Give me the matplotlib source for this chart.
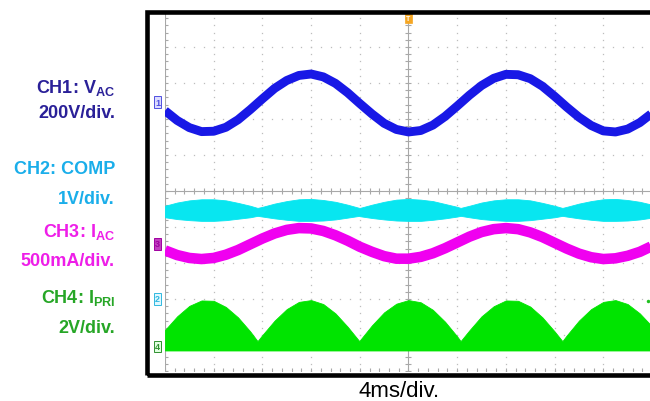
import numpy as np
import matplotlib
matplotlib.use("Agg")
import matplotlib.pyplot as plt
from matplotlib.patches import Rectangle

# ---- data (screen divisions) ----
time_div = [0.00, 0.25, 0.50, 0.75, 1.00, 1.25, 1.50, 1.75, 2.00, 2.25, 2.50, 2.75, 3.00, 3.25,
            3.50, 3.75, 4.00, 4.25, 4.50, 4.75, 5.00, 5.25, 5.50, 5.75, 6.00, 6.25, 6.50, 6.75,
            7.00, 7.25, 7.50, 7.75, 8.00, 8.25, 8.50, 8.75, 9.00, 9.25, 9.50, 9.75, 10.00]
ch1_vac = [2.23, 1.96, 1.76, 1.65, 1.66, 1.77, 1.98, 2.26, 2.56, 2.85, 3.07, 3.21, 3.25, 3.17,
           2.99, 2.73, 2.43, 2.14, 1.88, 1.71, 1.64, 1.68, 1.83, 2.07, 2.36, 2.66, 2.93, 3.13,
           3.24, 3.23, 3.12, 2.91, 2.63, 2.33, 2.05, 1.82, 1.67, 1.64, 1.72, 1.90, 2.16]
ch3_iac = [-1.65, -1.78, -1.86, -1.89, -1.86, -1.77, -1.64, -1.48, -1.32, -1.18, -1.08, -1.03,
           -1.04, -1.11, -1.23, -1.38, -1.55, -1.69, -1.81, -1.88, -1.88, -1.83, -1.73, -1.59,
           -1.43, -1.27, -1.14, -1.06, -1.03, -1.06, -1.15, -1.28, -1.44, -1.60, -1.74, -1.84,
           -1.89, -1.87, -1.80, -1.69, -1.53]

time_env = [0.00, 0.25, 0.50, 0.75, 1.00, 1.25, 1.50, 1.75, 1.90, 2.00, 2.25, 2.50, 2.75, 3.00,
            3.25, 3.50, 3.75, 3.99, 4.00, 4.25, 4.50, 4.75, 5.00, 5.25, 5.50, 5.75, 6.00, 6.07,
            6.25, 6.50, 6.75, 7.00, 7.25, 7.50, 7.75, 8.00, 8.16, 8.25, 8.50, 8.75, 9.00, 9.25,
            9.50, 9.75, 10.00]
ch2_top = [-0.41, -0.32, -0.26, -0.23, -0.23, -0.26, -0.33, -0.41, -0.47, -0.44, -0.35, -0.28,
           -0.23, -0.22, -0.25, -0.30, -0.38, -0.47, -0.47, -0.38, -0.30, -0.24, -0.22, -0.24,
           -0.28, -0.36, -0.44, -0.47, -0.41, -0.32, -0.26, -0.23, -0.23, -0.26, -0.33, -0.41,
           -0.47, -0.44, -0.35, -0.28, -0.23, -0.22, -0.25, -0.30, -0.38]
ch2_bottom = [-0.73, -0.78, -0.81, -0.83, -0.83, -0.81, -0.77, -0.73, -0.69, -0.71, -0.76, -0.80,
              -0.83, -0.83, -0.82, -0.79, -0.74, -0.69, -0.70, -0.75, -0.79, -0.82, -0.83, -0.83,
              -0.80, -0.76, -0.71, -0.69, -0.73, -0.78, -0.81, -0.83, -0.83, -0.81, -0.77, -0.73,
              -0.69, -0.71, -0.76, -0.80, -0.83, -0.83, -0.82, -0.79, -0.74]
ch4_top = [-3.86, -3.48, -3.19, -3.04, -3.05, -3.22, -3.51, -3.90, -4.17, -4.00, -3.60, -3.28,
           -3.08, -3.03, -3.14, -3.40, -3.77, -4.17, -4.15, -3.73, -3.37, -3.13, -3.03, -3.09,
           -3.30, -3.63, -4.04, -4.17, -3.87, -3.48, -3.20, -3.04, -3.05, -3.21, -3.51, -3.90,
           -4.17, -4.01, -3.60, -3.28, -3.08, -3.03, -3.14, -3.40, -3.76]
ch4_base = -4.43

channel_labels = [("CH1: V$_{\\mathrm{AC}}$", "200V/div.", "#2a2098"),
                  ("CH2: COMP", "1V/div.", "#1aaeea"),
                  ("CH3: I$_{\\mathrm{AC}}$", "500mA/div.", "#ee1ee8"),
                  ("CH4: I$_{\\mathrm{PRI}}$", "2V/div.", "#26a626")]
marker_labels = [("1", 2.47, "#5050e0", "#dcdcff"), ("3", -1.47, "#a000a0", "#c040c0"),
                 ("2", -3.00, "#30b8e0", "#e0f8ff"), ("4", -4.31, "#309030", "#e0ffe0")]
time_label = "4ms/div."

# ---- figure ----
plt.rcParams['font.family'] = ['Liberation Sans', 'DejaVu Sans']
plt.rcParams['mathtext.fontset'] = 'custom'
plt.rcParams['mathtext.rm'] = 'Liberation Sans:bold'
plt.rcParams['mathtext.it'] = 'Liberation Sans:bold'
plt.rcParams['mathtext.bf'] = 'Liberation Sans:bold'

W, H = 650, 402
fig = plt.figure(figsize=(W / 100, H / 100), dpi=100)
fig.patch.set_facecolor('white')

def fx(px):
    return px / W

def fy(py):
    return (H - py) / H

ax = fig.add_axes([fx(165), fy(372), (652 - 165) / W, 360 / H])
ax.set_xlim(0, 10)
ax.set_ylim(-5, 5)
ax.axis('off')

# grid (dotted)
gcol = '#bdbdbd'
for gx in range(1, 10):
    if gx == 5:
        continue
    yy = np.arange(-5, 5.01, 0.2)
    ax.plot([gx] * len(yy), yy, ls='none', marker='s', ms=0.9, mec='none', mfc=gcol, zorder=1)
for gy in range(-4, 5):
    if gy == 0:
        continue
    xx = np.arange(0, 10.01, 0.2)
    ax.plot(xx, [gy] * len(xx), ls='none', marker='s', ms=0.9, mec='none', mfc=gcol, zorder=1)

# center cross + edges with minor ticks
lcol = '#a8a8a8'
ax.plot([5, 5], [-5, 5], color=lcol, lw=0.8, zorder=1)
ax.plot([0, 10], [0, 0], color=lcol, lw=0.8, zorder=1)
ax.plot([0, 0], [-5, 5], color=lcol, lw=0.8, zorder=1)
ax.plot([0, 10], [-5, -5], color=lcol, lw=0.8, zorder=1)
ty = np.arange(-5, 5.01, 0.2)
tx = np.arange(0, 10.01, 0.2)
ax.plot([5] * len(ty), ty, ls='none', marker='_', ms=4, mew=0.8, color=lcol, zorder=1)
ax.plot([0] * len(ty), ty, ls='none', marker='_', ms=4, mew=0.8, color=lcol, zorder=1)
ax.plot(tx, [0] * len(tx), ls='none', marker='|', ms=4, mew=0.8, color=lcol, zorder=1)
ax.plot(tx, [-5] * len(tx), ls='none', marker='|', ms=4, mew=0.8, color=lcol, zorder=1)

# traces
ax.fill_between(time_env, ch2_bottom, ch2_top, color='#08e6f0', lw=0.6, ec='#08e6f0', zorder=3)
ax.fill_between(time_env, ch4_base, ch4_top, color='#00e400', lw=0.6, ec='#00e400', zorder=3)
ax.plot(time_div, ch1_vac, color='#1818e6', lw=6.4, solid_capstyle='butt',
        solid_joinstyle='round', zorder=4)
ax.plot(time_div, ch3_iac, color='#f000f0', lw=7.6, solid_capstyle='butt',
        solid_joinstyle='round', zorder=4)
ax.plot([9.92], [-3.06], ls='none', marker='o', ms=2.5, mec='none', mfc='#20c020', zorder=4)

# channel ground markers
for txt, yv, ec, fc in marker_labels:
    ax.text(-0.15, yv, txt, fontsize=6.5, color=ec, ha='center', va='center',
            fontweight='bold', clip_on=False, zorder=5,
            bbox=dict(boxstyle='square,pad=0.12', fc=fc, ec=ec, lw=0.7))
# trigger marker
ax.text(5, 4.8, "T", fontsize=5, color='white', ha='center', va='center',
        fontweight='bold', clip_on=False, zorder=5,
        bbox=dict(boxstyle='square,pad=0.25', fc='#f5a623', ec='#f5a623', lw=0.5))

# frame
fig.add_artist(Rectangle((fx(146.5), fy(375.5)), fx(700) - fx(146.5), fy(12.5) - fy(375.5),
                         transform=fig.transFigure, fill=False, ec='black', lw=3.3,
                         clip_on=False, zorder=10))

# left labels
baselines = [(93, 118), (174.5, 204.5), (237, 266.5), (303, 333.5)]
for (l1, l2, col), (b1, b2) in zip(channel_labels, baselines):
    fig.text(fx(115), fy(b1), l1, ha='right', va='baseline', fontsize=13,
             fontweight='bold', color=col)
    fig.text(fx(115), fy(b2), l2, ha='right', va='baseline', fontsize=13,
             fontweight='bold', color=col)

fig.text(fx(399), fy(397.5), time_label, ha='center', va='baseline', fontsize=16, color='black')

fig.savefig("out.png", dpi=100, facecolor='white')
